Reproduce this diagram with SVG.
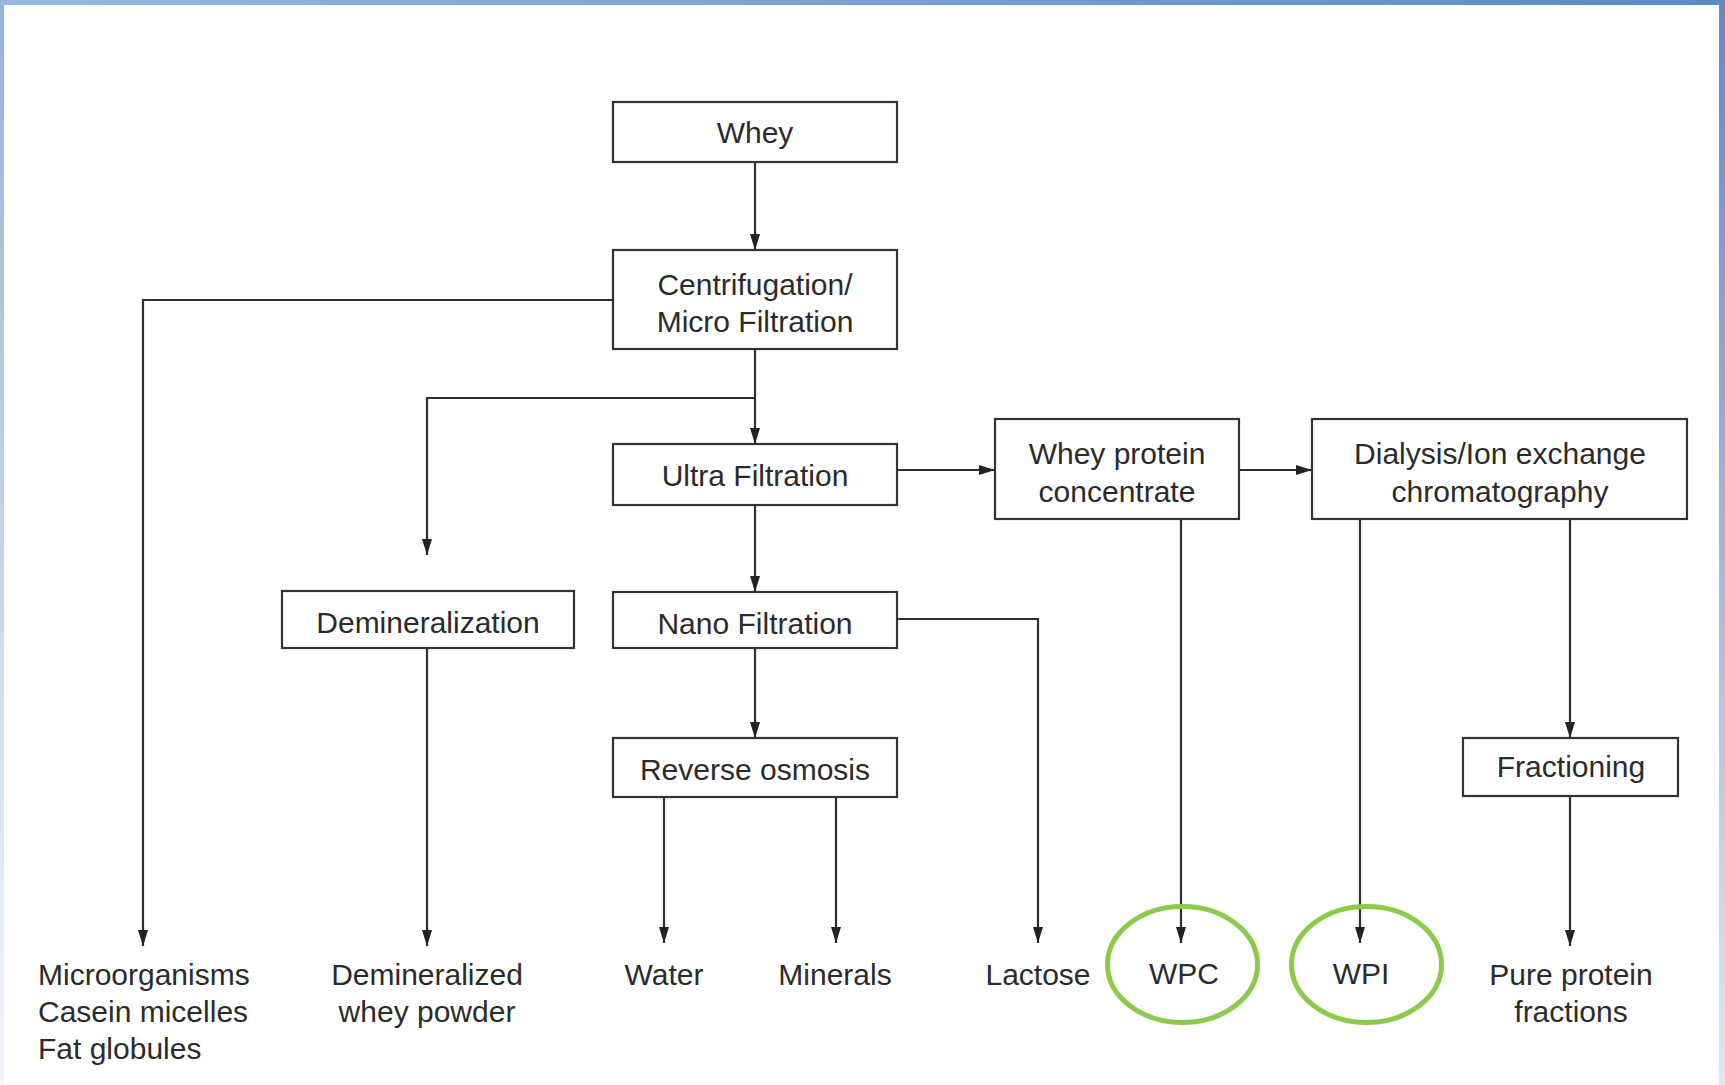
<svg xmlns="http://www.w3.org/2000/svg" width="1725" height="1085" viewBox="0 0 1725 1085">
  <defs>
    <linearGradient id="gTop" x1="0" y1="0" x2="1" y2="0">
      <stop offset="0" stop-color="#9ab6dd"/>
      <stop offset="1" stop-color="#5a8bc5"/>
    </linearGradient>
    <linearGradient id="gLeft" x1="0" y1="0" x2="0" y2="1">
      <stop offset="0" stop-color="#93b3da"/>
      <stop offset="1" stop-color="#f3f6fb"/>
    </linearGradient>
    <linearGradient id="gRight" x1="0" y1="0" x2="0" y2="1">
      <stop offset="0" stop-color="#5b8cc4"/>
      <stop offset="1" stop-color="#dfe7f3"/>
    </linearGradient>
    <marker id="arr" markerUnits="userSpaceOnUse" markerWidth="16" markerHeight="10" refX="16" refY="5" orient="auto">
      <path d="M0,0 L16,5 L0,10 z" fill="#222"/>
    </marker>
  </defs>
  <style>
    .box { fill: #fff; stroke: #333; stroke-width: 2.2; }
    .t { font-family: "Liberation Sans", Arial, sans-serif; font-size: 30px; fill: #2b2b2b; text-anchor: middle; }
    .tl { font-family: "Liberation Sans", Arial, sans-serif; font-size: 30px; fill: #2b2b2b; text-anchor: start; }
    .c { fill: none; stroke: #2f2f2f; stroke-width: 2.2; marker-end: url(#arr); }
    .cn { fill: none; stroke: #2f2f2f; stroke-width: 2.2; }
    .ring { fill: none; stroke: #8bcb4c; stroke-width: 5; }
  </style>

  <rect x="0" y="0" width="1725" height="1085" fill="#ffffff"/>
  <rect x="0" y="0" width="4" height="1085" fill="url(#gLeft)"/>
  <rect x="1719" y="0" width="6" height="1085" fill="url(#gRight)"/>
  <rect x="0" y="0" width="1725" height="5" fill="url(#gTop)"/>

  <g id="connectors">
    <path class="c" d="M755,162 V250"/>
    <path class="c" d="M613,300 H143 V946"/>
    <path class="c" d="M755,349 V444"/>
    <path class="c" d="M755,398 H427 V555"/>
    <path class="c" d="M427,648 V946"/>
    <path class="c" d="M898,470 H995"/>
    <path class="c" d="M755,505 V592"/>
    <path class="c" d="M755,648 V738"/>
    <path class="c" d="M898,619 H1038 V943"/>
    <path class="c" d="M664,797 V943"/>
    <path class="c" d="M836,797 V943"/>
    <path class="c" d="M1181,519 V943"/>
    <path class="c" d="M1239,470 H1312"/>
    <path class="c" d="M1360,519 V943"/>
    <path class="c" d="M1570,519 V738"/>
    <path class="c" d="M1570,796 V946"/>
  </g>

  <g id="whey">
    <rect class="box" x="613" y="102" width="284" height="60"/>
    <text class="t" x="755" y="143">Whey</text>
  </g>
  <g id="centrifugation">
    <rect class="box" x="613" y="250" width="284" height="99"/>
    <text class="t" x="755" y="295">Centrifugation/</text>
    <text class="t" x="755" y="332">Micro Filtration</text>
  </g>
  <g id="ultra">
    <rect class="box" x="613" y="444" width="284" height="61"/>
    <text class="t" x="755" y="486">Ultra Filtration</text>
  </g>
  <g id="nano">
    <rect class="box" x="613" y="592" width="284" height="56"/>
    <text class="t" x="755" y="634">Nano Filtration</text>
  </g>
  <g id="ro">
    <rect class="box" x="613" y="738" width="284" height="59"/>
    <text class="t" x="755" y="780">Reverse osmosis</text>
  </g>
  <g id="demineralization">
    <rect class="box" x="282" y="591" width="292" height="57"/>
    <text class="t" x="428" y="633">Demineralization</text>
  </g>
  <g id="wpc-box">
    <rect class="box" x="995" y="419" width="244" height="100"/>
    <text class="t" x="1117" y="464">Whey protein</text>
    <text class="t" x="1117" y="502">concentrate</text>
  </g>
  <g id="dialysis">
    <rect class="box" x="1312" y="419" width="375" height="100"/>
    <text class="t" x="1500" y="464">Dialysis/Ion exchange</text>
    <text class="t" x="1500" y="502">chromatography</text>
  </g>
  <g id="fractioning">
    <rect class="box" x="1463" y="738" width="215" height="58"/>
    <text class="t" x="1571" y="777">Fractioning</text>
  </g>

  <g id="out-micro">
    <text class="tl" x="38" y="985">Microorganisms</text>
    <text class="tl" x="38" y="1022">Casein micelles</text>
    <text class="tl" x="38" y="1059">Fat globules</text>
  </g>
  <g id="out-demin">
    <text class="t" x="427" y="985">Demineralized</text>
    <text class="t" x="427" y="1022">whey powder</text>
  </g>
  <g id="out-water">
    <text class="t" x="664" y="985">Water</text>
  </g>
  <g id="out-minerals">
    <text class="t" x="835" y="985">Minerals</text>
  </g>
  <g id="out-lactose">
    <text class="t" x="1038" y="985">Lactose</text>
  </g>
  <g id="out-wpc">
    <ellipse class="ring" cx="1182.5" cy="964.5" rx="75" ry="58"/>
    <text class="t" x="1184" y="984">WPC</text>
  </g>
  <g id="out-wpi">
    <ellipse class="ring" cx="1366.5" cy="964.5" rx="75" ry="58"/>
    <text class="t" x="1361" y="984">WPI</text>
  </g>
  <g id="out-pure">
    <text class="t" x="1571" y="985">Pure protein</text>
    <text class="t" x="1571" y="1022">fractions</text>
  </g>
</svg>
